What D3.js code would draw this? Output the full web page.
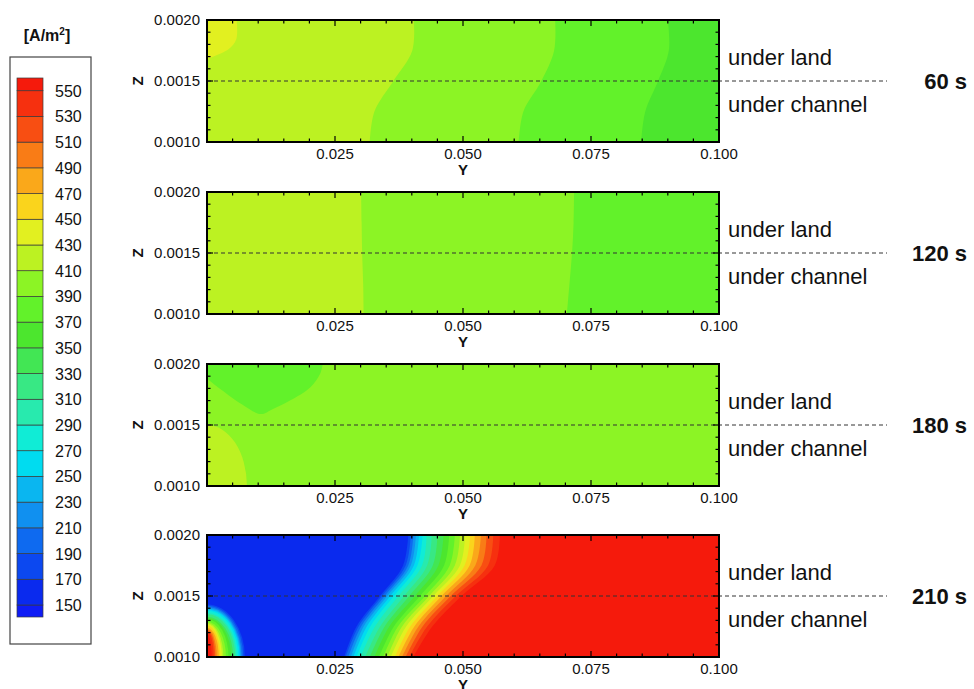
<!DOCTYPE html>
<html>
<head>
<meta charset="utf-8">
<script src="https://cdn.jsdelivr.net/npm/d3@7"></script>
<style>
  body { margin: 0; background: #fff; }
  svg { display: block; font-family: "Liberation Sans", Arial, sans-serif; }
</style>
</head>
<body>
<div id="container"></div>
<script>
/* CONSTANTS AND GLOBALS */
const width = 974, height = 689;

// contour levels of the current density [A/m2]
const levels = [150, 170, 190, 210, 230, 250, 270, 290, 310, 330, 350,
  370, 390, 410, 430, 450, 470, 490, 510, 530, 550];
// one colour per band: <150, 150-170, ... , >550
const bandColors = ["#0f1cf5", "#0a2aee", "#0c48f0", "#0e6af0", "#1090f0", "#0ab6f0",
  "#00dcf0", "#10ecd6", "#28eaae", "#38e884", "#42e654", "#4ce62e", "#62f22a",
  "#8cf425", "#bcf222", "#e2f020", "#fad41c", "#faa81a", "#f97c16", "#f84e12",
  "#f6300f", "#f51a0c"];

const times = ["60 s", "120 s", "180 s", "210 s"];
const yTicks = [0.025, 0.050, 0.075, 0.100];
const zTicks = [0.0010, 0.0015, 0.0020];

// Z rows at which the contour lines are read (top to bottom)
const zRows = [0.0020, 0.00175, 0.0015, 0.00125, 0.0010];

// 60 s : left band value, contour lines (Y at each zRow)
const p60Base = 420;
const p60Levels = [410, 390, 370];
const p60Y = [
  [0.0404, 0.0401, 0.0364, 0.0327, 0.0318],
  [0.0680, 0.0678, 0.0653, 0.0618, 0.0609],
  [0.0900, 0.0902, 0.0881, 0.0856, 0.0848]
];
const p60Corner = [[0.0058, 0.0020], [0.0057, 0.00184], [0.0042, 0.00176], [0, 0.00168]];

// 120 s
const p120Base = 420;
const p120Levels = [410, 390];
const p120Y = [
  [0.0301, 0.0302, 0.0303, 0.0305, 0.0306],
  [0.0717, 0.0716, 0.0713, 0.0708, 0.0703]
];

// 180 s
const p180Base = 400;
const p180TopCorner = [[0.0226, 0.0020], [0.0221, 0.00192], [0.0202, 0.00181], [0.0162, 0.00170],
  [0.0128, 0.00163], [0.0105, 0.00159], [0.0068, 0.00167], [0, 0.00188]];
const p180Low = { value: 420, zLeft: 0.0015, yBottom: 0.0078 };

// 210 s
const p210Base = 160;
const p210Levels = [170, 190, 210, 230, 250, 270, 290, 310, 330, 350,
  370, 390, 410, 430, 450, 470, 490, 510, 530, 550];
const p210Y = [
  [0.0393, 0.0383, 0.0338, 0.0292, 0.0268],
  [0.0398, 0.0388, 0.0342, 0.0296, 0.0271],
  [0.0403, 0.0393, 0.0347, 0.0301, 0.0276],
  [0.0408, 0.0398, 0.0352, 0.0306, 0.0281],
  [0.0414, 0.0404, 0.0358, 0.0312, 0.0286],
  [0.0421, 0.0411, 0.0365, 0.0319, 0.0292],
  [0.0429, 0.0420, 0.0374, 0.0328, 0.0300],
  [0.0439, 0.0430, 0.0385, 0.0338, 0.0309],
  [0.0450, 0.0441, 0.0395, 0.0347, 0.0318],
  [0.0462, 0.0452, 0.0406, 0.0356, 0.0327],
  [0.0473, 0.0463, 0.0416, 0.0365, 0.0336],
  [0.0484, 0.0474, 0.0426, 0.0373, 0.0344],
  [0.0494, 0.0484, 0.0434, 0.0381, 0.0352],
  [0.0504, 0.0494, 0.0442, 0.0389, 0.0359],
  [0.0514, 0.0503, 0.0450, 0.0397, 0.0367],
  [0.0523, 0.0513, 0.0458, 0.0405, 0.0374],
  [0.0535, 0.0524, 0.0467, 0.0413, 0.0381],
  [0.0546, 0.0536, 0.0476, 0.0421, 0.0388],
  [0.0559, 0.0549, 0.0486, 0.0430, 0.0395],
  [0.0572, 0.0562, 0.0497, 0.0440, 0.0403]
];
// hot spot in the lower left corner: where each level meets the left and bottom edges
const p210SpotZ = [0.00143, 0.00142, 0.00141, 0.00140, 0.00139, 0.00138, 0.00136, 0.00135,
  0.00133, 0.00132, 0.00131, 0.00129, 0.00128, 0.00127, 0.00126, 0.00124, 0.00123,
  0.00122, 0.00121, 0.00119];
const p210SpotY = [0.0074, 0.0071, 0.0068, 0.0066, 0.0064, 0.0061, 0.0058, 0.0055,
  0.0051, 0.0047, 0.0042, 0.0037, 0.0032, 0.0029, 0.0026, 0.0023, 0.0019,
  0.0016, 0.0013, 0.0009];

const panels = [
  { label: times[0], base: p60Base, levels: p60Levels, ys: p60Y,
    corners: [{ value: 440, at: [0, 0.0020], pts: p60Corner }], spots: [] },
  { label: times[1], base: p120Base, levels: p120Levels, ys: p120Y, corners: [], spots: [] },
  { label: times[2], base: p180Base, levels: [], ys: [],
    corners: [{ value: 380, at: [0, 0.0020], pts: p180TopCorner }], spots: [p180Low] },
  { label: times[3], base: p210Base, levels: p210Levels, ys: p210Y, corners: [],
    spots: p210Levels.map((l, i) => ({ value: l + 10, zLeft: p210SpotZ[i], yBottom: p210SpotY[i] })) }
];

const color = d3.scaleThreshold().domain(levels).range(bandColors);

const svg = d3.select("#container")
  .append("svg")
  .attr("width", width)
  .attr("height", height);

// X SCALE (shared)
const x = d3.scaleLinear().domain([0, 0.1]).range([207, 719]);
const panelTops = [20, 192, 364, 535];
const panelH = 122;

panels.forEach((p, k) => {
  const top = panelTops[k];
  const y = d3.scaleLinear().domain([0.0010, 0.0020]).range([top + panelH, top]);
  const g = svg.append("g");

  g.append("clipPath").attr("id", "clip" + k)
    .append("rect")
    .attr("x", x(0)).attr("y", top)
    .attr("width", x(0.1) - x(0)).attr("height", panelH);

  const fills = g.append("g").attr("clip-path", `url(#clip${k})`);

  fills.append("rect")
    .attr("x", x(0)).attr("y", top)
    .attr("width", x(0.1) - x(0)).attr("height", panelH)
    .attr("fill", color(p.base));

  const line = d3.line()
    .x(d => x(d[0]))
    .y(d => y(d[1]))
    .curve(d3.curveCatmullRom.alpha(0.5));

  // bands right of each contour line
  p.levels.forEach((lvl, i) => {
    const pts = zRows.map((z, j) => [p.ys[i][j], z]);
    const right = p.base > lvl ? lvl - 10 : lvl + 10;
    fills.append("path")
      .attr("d", line(pts) + `L${x(0.1) + 5},${y(0.0010)}L${x(0.1) + 5},${y(0.0020)}Z`)
      .attr("fill", color(right));
  });

  // regions closed against a corner
  p.corners.forEach(c => {
    fills.append("path")
      .attr("d", `M${x(c.at[0])},${y(c.at[1])}L` + line(c.pts).slice(1) + "Z")
      .attr("fill", color(c.value));
  });

  // quarter-ellipse spots in the lower left corner
  p.spots.forEach(s => {
    const rx = x(s.yBottom) - x(0), ry = y(0.0010) - y(s.zLeft);
    fills.append("path")
      .attr("d", `M${x(0)},${y(s.zLeft)}A${rx},${ry} 0 0 1 ${x(s.yBottom)},${y(0.0010)}L${x(0)},${y(0.0010)}Z`)
      .attr("fill", color(s.value));
  });

  // dashed land / channel divide
  g.append("line")
    .attr("x1", x(0)).attr("x2", 887)
    .attr("y1", y(0.0015)).attr("y2", y(0.0015))
    .attr("stroke", "#333")
    .attr("stroke-width", 1)
    .attr("stroke-dasharray", "4,3");

  // ticks on all four sides, pointing inwards
  const tk = g.append("g").attr("stroke", "#000").attr("stroke-width", 1.2);
  const xMajor = [0].concat(yTicks);
  x.ticks(20).forEach(t => {
    const len = xMajor.some(m => Math.abs(m - t) < 1e-9) ? 6 : 3.5;
    tk.append("line").attr("x1", x(t)).attr("x2", x(t))
      .attr("y1", y(0.0010)).attr("y2", y(0.0010) - len);
    tk.append("line").attr("x1", x(t)).attr("x2", x(t))
      .attr("y1", y(0.0020)).attr("y2", y(0.0020) + len);
  });
  y.ticks(10).forEach(t => {
    const len = zTicks.some(m => Math.abs(m - t) < 1e-9) ? 6 : 3.5;
    tk.append("line").attr("y1", y(t)).attr("y2", y(t))
      .attr("x1", x(0)).attr("x2", x(0) + len);
    tk.append("line").attr("y1", y(t)).attr("y2", y(t))
      .attr("x1", x(0.1)).attr("x2", x(0.1) - len);
  });

  // frame
  g.append("rect")
    .attr("x", x(0)).attr("y", top)
    .attr("width", x(0.1) - x(0)).attr("height", panelH)
    .attr("fill", "none")
    .attr("stroke", "#000")
    .attr("stroke-width", 2);

  // tick labels
  g.selectAll("text.ylab")
    .data(yTicks)
    .join("text")
    .attr("class", "ylab")
    .attr("x", d => x(d))
    .attr("y", y(0.0010) + 17)
    .attr("text-anchor", "middle")
    .attr("font-size", 15)
    .attr("fill", "#111")
    .text(d3.format(".3f"));

  g.selectAll("text.zlab")
    .data(zTicks)
    .join("text")
    .attr("class", "zlab")
    .attr("x", 200)
    .attr("y", d => y(d) + 5)
    .attr("text-anchor", "end")
    .attr("font-size", 15)
    .attr("fill", "#111")
    .text(d3.format(".4f"));

  // axis titles
  g.append("text")
    .attr("x", x(0.05)).attr("y", y(0.0010) + 33)
    .attr("text-anchor", "middle")
    .attr("font-size", 15).attr("font-weight", "bold")
    .attr("fill", "#111")
    .text("Y");

  g.append("text")
    .attr("transform", `translate(143,${y(0.0015)}) rotate(-90)`)
    .attr("text-anchor", "middle")
    .attr("font-size", 15).attr("font-weight", "bold")
    .attr("fill", "#111")
    .text("Z");

  // right-hand annotations
  g.append("text")
    .attr("x", 728).attr("y", top + 45)
    .attr("font-size", 22).attr("fill", "#111")
    .text("under land");
  g.append("text")
    .attr("x", 728).attr("y", top + 92)
    .attr("font-size", 22).attr("fill", "#111")
    .text("under channel");
  g.append("text")
    .attr("x", 967).attr("y", y(0.0015) + 8)
    .attr("text-anchor", "end")
    .attr("font-size", 22).attr("font-weight", "bold").attr("fill", "#111")
    .text(p.label);
});

// LEGEND
const lg = svg.append("g");
const ly = d3.scaleLinear().domain([150, 550]).range([605, 90.7]);

lg.append("rect")
  .attr("x", 10).attr("y", 57)
  .attr("width", 81).attr("height", 587)
  .attr("fill", "#fff")
  .attr("stroke", "#444")
  .attr("stroke-width", 1.2);

const bands = bandColors.map((c, i) => ({
  c,
  y0: i === 0 ? ly(150) + 12 : ly(levels[i - 1]),
  y1: i === bandColors.length - 1 ? ly(550) - 12.7 : ly(levels[i])
}));

lg.selectAll("rect.band")
  .data(bands)
  .join("rect")
  .attr("class", "band")
  .attr("x", 17)
  .attr("width", 26)
  .attr("y", d => d.y1)
  .attr("height", d => d.y0 - d.y1)
  .attr("fill", d => d.c)
  .attr("stroke", "#3a3a3a")
  .attr("stroke-width", 0.7);

lg.selectAll("text.lev")
  .data(levels)
  .join("text")
  .attr("class", "lev")
  .attr("x", 55)
  .attr("y", d => ly(d) + 6)
  .attr("font-size", 16)
  .attr("fill", "#111")
  .text(d => d);

const title = lg.append("text")
  .attr("x", 47).attr("y", 41)
  .attr("text-anchor", "middle")
  .attr("font-size", 16).attr("font-weight", "bold")
  .attr("fill", "#111");
title.append("tspan").text("[A/m");
title.append("tspan").attr("dy", -6).attr("font-size", 10).text("2");
title.append("tspan").attr("dy", 6).text("]");
</script>
</body>
</html>
